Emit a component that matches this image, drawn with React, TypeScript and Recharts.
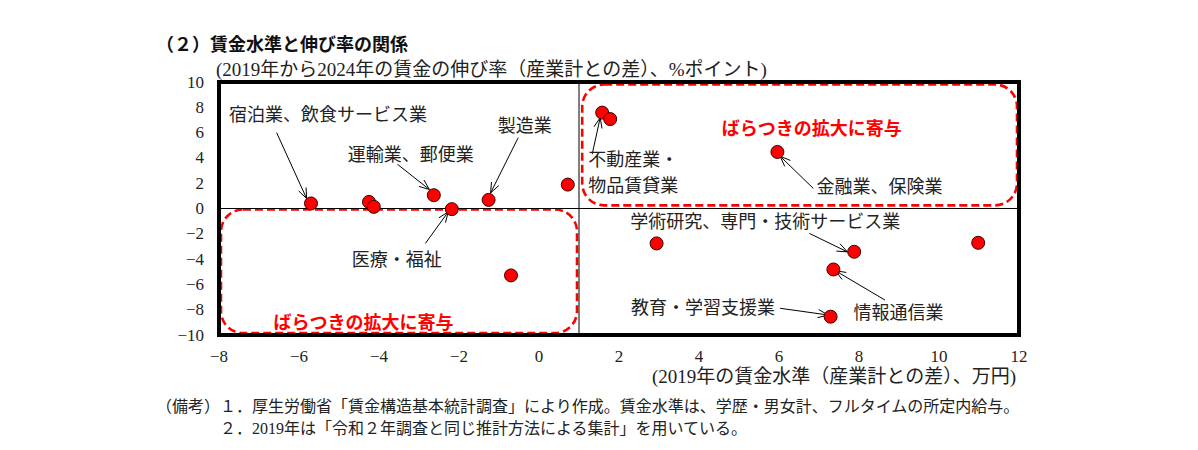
import { ScatterChart, Scatter, XAxis, YAxis, ReferenceLine, ReferenceArea, ReferenceDot } from "recharts";

// 2019年の賃金水準（産業計との差、万円）
const wageLevel = [-5.7, -4.25, -4.13, -2.63, -2.18, -1.26, 0.72, 1.58, 1.78, 5.96, -0.7, 2.94, 7.88, 7.36, 7.29, 10.98];
// 2019→2024年の賃金の伸び率（産業計との差、%ポイント）
const wageGrowth = [0.4, 0.52, 0.13, 1.05, -0.05, 0.68, 1.89, 7.58, 7.07, 4.47, -5.29, -2.76, -3.42, -4.82, -8.55, -2.71];

const xTicks = [-8, -6, -4, -2, 0, 2, 4, 6, 8, 10, 12];
const yTicks = [-10, -8, -6, -4, -2, 0, 2, 4, 6, 8, 10];

const points = wageLevel.map((x, i) => ({ x, y: wageGrowth[i] }));

// annotation text and arrows, in data units
const notes = [
  { lines: ["宿泊業、飲食サービス業"], tx: -7.75, ty: 7.36, from: [-6.56, 6.0], to: [-5.81, 0.79] },
  { lines: ["製造業"], tx: -1.03, ty: 6.5, from: [-0.52, 5.6], to: [-1.21, 1.23] },
  { lines: ["運輸業、郵便業"], tx: -4.78, ty: 4.26, from: [-3.54, 3.5], to: [-2.74, 1.5] },
  { lines: ["医療・福祉"], tx: -4.68, ty: -4.08, from: [-2.84, -2.76], to: [-2.27, -0.27] },
  { lines: ["不動産業・", "物品賃貸業"], tx: 1.23, ty: 3.81, from: [1.33, 4.29], to: [1.53, 7.18] },
  { lines: ["金融業、保険業"], tx: 6.94, ty: 1.7, from: [6.86, 1.58], to: [6.03, 4.13] },
  { lines: ["学術研究、専門・技術サービス業"], tx: 2.28, ty: -1.06, from: [6.76, -1.97], to: [7.71, -3.43] },
  { lines: ["情報通信業"], tx: 7.86, ty: -8.29, from: [8.65, -7.24], to: [7.41, -4.92] },
  { lines: ["教育・学習支援業"], tx: 2.3, ty: -7.89, from: [6.03, -7.89], to: [7.23, -8.42] },
];

const FONT = "'Liberation Serif', 'Noto Sans CJK JP', serif";
const RED = "#ff0000";

const fmt = (v: number) => (v < 0 ? "\u2212" + Math.abs(v) : String(v));

function Arrow(p: any) {
  const { x1, y1, x2, y2 } = p;
  const ang = Math.atan2(y2 - y1, x2 - x1);
  const len = 11;
  const w = 0.38;
  const ax = x2 - len * Math.cos(ang - w);
  const ay = y2 - len * Math.sin(ang - w);
  const bx = x2 - len * Math.cos(ang + w);
  const by = y2 - len * Math.sin(ang + w);
  return (
    <g>
      <line x1={x1} y1={y1} x2={x2} y2={y2} stroke="#000" strokeWidth={1} />
      <polyline points={`${ax},${ay} ${x2},${y2} ${bx},${by}`} fill="none" stroke="#000" strokeWidth={1} />
    </g>
  );
}

function textShape(lines: string[], opts: { color?: string; bold?: boolean; anchor?: string } = {}) {
  return (p: any) => (
    <text
      x={p.cx}
      y={p.cy}
      fill={opts.color || "#222"}
      fontWeight={opts.bold ? 700 : 400}
      textAnchor={opts.anchor || "start"}
      fontFamily={FONT}
      fontSize={18}
      dominantBaseline="central"
    >
      {lines.map((l, i) => (
        <tspan key={i} x={p.cx} dy={i === 0 ? 0 : 26}>
          {l}
        </tspan>
      ))}
    </text>
  );
}

function DashedBox(p: any) {
  return (
    <rect
      x={p.x}
      y={p.y}
      width={p.width}
      height={p.height}
      rx={22}
      ry={22}
      fill="none"
      stroke={RED}
      strokeWidth={2.6}
      strokeDasharray="8 4"
    />
  );
}

function Dot(p: any) {
  return <circle cx={p.cx} cy={p.cy} r={6.5} fill={RED} stroke="#3a0000" strokeWidth={1} />;
}

function XTick(p: any) {
  return (
    <text x={p.x} y={p.y + 6} textAnchor="middle" dominantBaseline="central" fontFamily="'Liberation Serif'" fontSize={17} fill="#222">
      {fmt(p.payload.value)}
    </text>
  );
}

function YTick(p: any) {
  return (
    <text x={p.x} y={p.y} textAnchor="end" dominantBaseline="central" fontFamily="'Liberation Serif'" fontSize={17} fill="#222">
      {fmt(p.payload.value)}
    </text>
  );
}

export default function App() {
  return (
    <div style={{ position: "absolute", left: 0, top: 0, width: 1198, height: 450, background: "#fff" }}>
      <div style={{ position: "absolute", left: 156, top: 33, fontFamily: "'Noto Sans CJK JP'", fontWeight: 700, fontSize: 18, lineHeight: "20px", color: "#111" }}>
        （２）賃金水準と伸び率の関係
      </div>
      <div style={{ position: "absolute", left: 216, top: 60, fontFamily: FONT, fontSize: 19, lineHeight: "20px", color: "#222", whiteSpace: "nowrap" }}>
        (2019年から2024年の賃金の伸び率（産業計との差）、%ポイント)
      </div>
      <ScatterChart width={1198} height={450} margin={{ top: 82, right: 179, bottom: 85, left: 159 }}>
        <XAxis
          type="number"
          dataKey="x"
          domain={[-8, 12]}
          ticks={xTicks}
          axisLine={false}
          tickLine={false}
          tickSize={0}
          tickMargin={15}
          height={30}
          tick={XTick}
          allowDataOverflow
        />
        <YAxis
          type="number"
          dataKey="y"
          domain={[-10, 10]}
          ticks={yTicks}
          axisLine={false}
          tickLine={false}
          tickSize={0}
          tickMargin={15}
          width={60}
          tick={YTick}
          allowDataOverflow
        />
        <ReferenceLine y={0} stroke="#000" strokeWidth={1} />
        <ReferenceLine x={1} stroke="#000" strokeWidth={1} />
        <ReferenceArea x1={1.08} x2={11.95} y1={0.25} y2={9.8} shape={DashedBox} />
        <ReferenceArea x1={-7.95} x2={0.95} y1={-9.85} y2={-0.08} shape={DashedBox} />
        <ReferenceArea x1={-8} x2={12} y1={-10} y2={10} fill="none" fillOpacity={0} stroke="#000" strokeWidth={4} />
        {notes.map((n, i) => (
          <ReferenceLine
            key={"a" + i}
            segment={[
              { x: n.from[0], y: n.from[1] },
              { x: n.to[0], y: n.to[1] },
            ]}
            shape={Arrow}
          />
        ))}
        {notes.map((n, i) => (
          <ReferenceDot key={"t" + i} x={n.tx} y={n.ty} r={1} shape={textShape(n.lines)} />
        ))}
        <ReferenceDot x={6.82} y={6.31} r={1} shape={textShape(["ばらつきの拡大に寄与"], { color: RED, bold: true, anchor: "middle" })} />
        <ReferenceDot x={-4.39} y={-9.08} r={1} shape={textShape(["ばらつきの拡大に寄与"], { color: RED, bold: true, anchor: "middle" })} />
        <Scatter data={points} shape={Dot} isAnimationActive={false} />
      </ScatterChart>
      <div style={{ position: "absolute", right: 1198 - 1016, top: 367, fontFamily: FONT, fontSize: 19, lineHeight: "20px", color: "#222", whiteSpace: "nowrap" }}>
        (2019年の賃金水準（産業計との差）、万円)
      </div>
      <div style={{ position: "absolute", left: 156, top: 396, fontFamily: FONT, fontSize: 16, lineHeight: "22px", color: "#222", whiteSpace: "nowrap" }}>
        <div>（備考）１．厚生労働省「賃金構造基本統計調査」により作成。賃金水準は、学歴・男女計、フルタイムの所定内給与。</div>
        <div style={{ paddingLeft: 64 }}>２．2019年は「令和２年調査と同じ推計方法による集計」を用いている。</div>
      </div>
    </div>
  );
}
